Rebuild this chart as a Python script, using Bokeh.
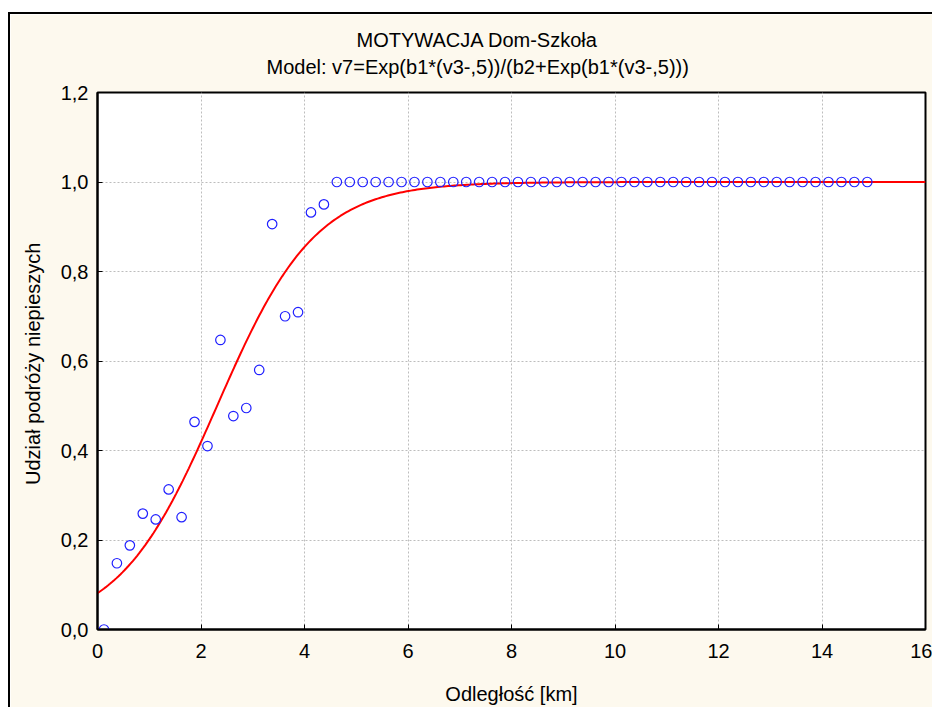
import numpy as np
from bokeh.plotting import figure
from bokeh.models import Title, FixedTicker, Range1d
from bokeh.embed import file_html
from bokeh.resources import INLINE

# Texts
title_text = "MOTYWACJA Dom-Szkoła"
model_text = "Model: v7=Exp(b1*(v3-,5))/(b2+Exp(b1*(v3-,5)))"
x_label = "Odległość [km]"
y_label = "Udział podróży  niepieszych"

# Observed share of non-walking trips by distance class (km)
distance_km = [
    0.125, 0.375, 0.625, 0.875, 1.125, 1.375, 1.625, 1.875, 2.125, 2.375,
    2.625, 2.875, 3.125, 3.375, 3.625, 3.875, 4.125, 4.375, 4.625, 4.875,
    5.125, 5.375, 5.625, 5.875, 6.125, 6.375, 6.625, 6.875, 7.125, 7.375,
    7.625, 7.875, 8.125, 8.375, 8.625, 8.875, 9.125, 9.375, 9.625, 9.875,
    10.125, 10.375, 10.625, 10.875, 11.125, 11.375, 11.625, 11.875, 12.125, 12.375,
    12.625, 12.875, 13.125, 13.375, 13.625, 13.875, 14.125, 14.375, 14.625, 14.875,
]
share = [
    0.000, 0.148, 0.188, 0.259, 0.246, 0.313, 0.251, 0.464, 0.410, 0.647,
    0.477, 0.495, 0.580, 0.906, 0.700, 0.709, 0.932, 0.950, 1.000, 1.000,
    1.000, 1.000, 1.000, 1.000, 1.000, 1.000, 1.000, 1.000, 1.000, 1.000,
    1.000, 1.000, 1.000, 1.000, 1.000, 1.000, 1.000, 1.000, 1.000, 1.000,
    1.000, 1.000, 1.000, 1.000, 1.000, 1.000, 1.000, 1.000, 1.000, 1.000,
    1.000, 1.000, 1.000, 1.000, 1.000, 1.000, 1.000, 1.000, 1.000, 1.000,
]

# Fitted logistic model parameters
b1 = 1.05
b2 = 6.7

x_ticks = [0, 2, 4, 6, 8, 10, 12, 14, 16]
x_tick_labels = ["0", "2", "4", "6", "8", "10", "12", "14", "16"]
y_ticks = [0.0, 0.2, 0.4, 0.6, 0.8, 1.0, 1.2]
y_tick_labels = ["0,0", "0,2", "0,4", "0,6", "0,8", "1,0", "1,2"]

FONT = "Liberation Sans"
FONT_SIZE = "20px"
CREAM = "#fdf9ee"

curve_x = np.linspace(0, 16, 400)
curve_y = np.exp(b1 * (curve_x - 0.5)) / (b2 + np.exp(b1 * (curve_x - 0.5)))

p = figure(
    width=924, height=695,
    x_range=Range1d(0, 16), y_range=Range1d(0, 1.2),
    min_border_left=87, min_border_right=9, min_border_top=78, min_border_bottom=80,
    output_backend="svg", toolbar_location=None,
    background_fill_color="white", border_fill_color=CREAM,
    outline_line_color="black", outline_line_width=2,
    styles={
        "margin-left": "8px", "margin-top": "12px",
        "border-left": "2px solid black", "border-top": "2px solid black",
    },
)

# grid
for g in (p.xgrid, p.ygrid):
    g.grid_line_color = "#bdbdbd"
    g.grid_line_dash = "2 2"
    g.grid_line_width = 1

# axes
p.xaxis.ticker = FixedTicker(ticks=x_ticks)
p.yaxis.ticker = FixedTicker(ticks=y_ticks)
p.xaxis.major_label_overrides = dict(zip(x_ticks, x_tick_labels))
p.yaxis.major_label_overrides = dict(zip(y_ticks, y_tick_labels))
for ax in (p.xaxis[0], p.yaxis[0]):
    ax.axis_line_color = "black"
    ax.axis_line_width = 2
    ax.major_tick_in = 5
    ax.major_tick_out = 0
    ax.major_tick_line_color = "black"
    ax.major_tick_line_width = 1
    ax.minor_tick_line_color = None
    ax.major_label_text_font = FONT
    ax.major_label_text_font_size = FONT_SIZE
    ax.major_label_text_color = "black"
    ax.axis_label_text_font = FONT
    ax.axis_label_text_font_size = FONT_SIZE
    ax.axis_label_text_font_style = "normal"
    ax.axis_label_text_color = "black"
p.xaxis.axis_label = x_label
p.yaxis.axis_label = y_label
p.xaxis.major_label_standoff = 14
p.yaxis.major_label_standoff = 9
p.xaxis.axis_label_standoff = 22
p.yaxis.axis_label_standoff = 14

# fitted model curve
p.line(curve_x, curve_y, line_color="#ff0000", line_width=2)

# observations
p.scatter(distance_km, share, marker="circle", size=9.5,
          fill_color=None, line_color="#2020ff", line_width=1.2)

# two-line heading; the first one added sits nearest the frame
p.add_layout(Title(text=model_text, align="left", offset=169,
                   text_font=FONT, text_font_size=FONT_SIZE,
                   text_font_style="normal", text_color="black",
                   standoff=29), "above")
p.add_layout(Title(text=title_text, align="left", offset=259,
                   text_font=FONT, text_font_size=FONT_SIZE,
                   text_font_style="normal", text_color="black",
                   standoff=-22), "above")

open("out.html", "w").write(file_html(p, INLINE))
